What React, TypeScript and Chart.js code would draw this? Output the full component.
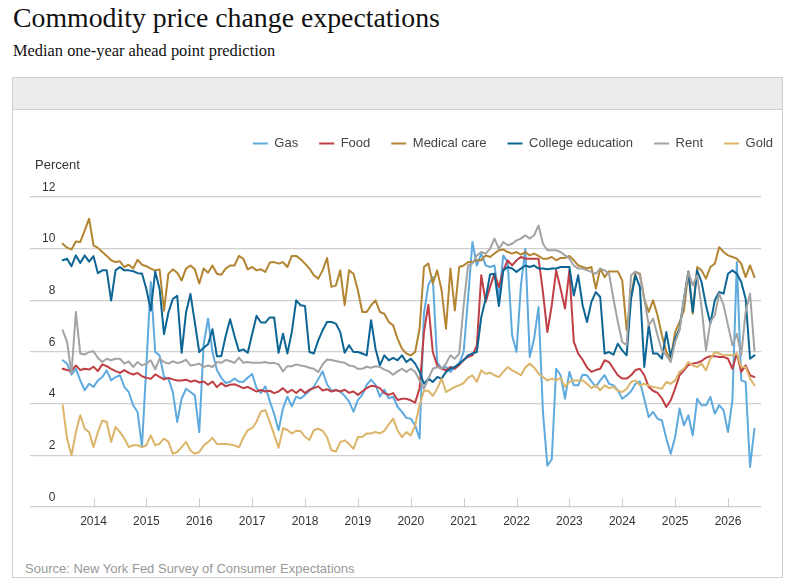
import React, { useEffect, useRef } from 'react';
import { Chart, registerables } from 'chart.js';

Chart.register(...registerables);

// ---- Data (median one-year ahead point prediction, percent), monthly from June 2013 ----
const START_YEAR = 2013;
const START_MONTH = 6;
const YEAR_TICKS = [2014, 2015, 2016, 2017, 2018, 2019, 2020, 2021, 2022, 2023, 2024, 2025, 2026];

const SERIES_NAMES = ['Gas', 'Food', 'Medical care', 'College education', 'Rent', 'Gold'];
const SERIES_COLORS = ['#5eaadf', '#bf3f45', '#b38431', '#0c6594', '#a3a3a3', '#dcb46a'];

const GAS = [
  5.68, 5.55, 5.12, 5.35, 4.9, 4.52, 4.77, 4.65, 4.9, 5.03,
  5.29, 4.9, 5.03, 5.1, 4.65, 4.45, 3.94, 3.68, 2.32, 5.5,
  8.71, 6.0, 5.87, 5.03, 4.97, 4.45, 3.29, 4.19, 4.58, 4.45,
  4.32, 2.9, 6.3, 7.29, 6.0, 5.3, 5.0, 4.8, 4.85, 4.97,
  4.85, 4.85, 5.0, 5.15, 4.6, 4.41, 4.67, 4.1, 3.6, 2.97,
  3.82, 4.27, 3.9, 4.27, 4.2, 4.34, 4.5, 4.65, 4.95, 5.25,
  4.75, 4.5, 4.54, 4.47, 4.3, 4.08, 3.69, 4.14, 4.34, 4.73,
  4.93, 4.73, 4.27, 4.54, 4.21, 4.27, 3.88, 3.68, 3.45, 3.42,
  3.16, 2.65, 7.5, 8.6, 8.9, 5.61, 5.35, 5.42, 5.23, 5.42,
  5.55, 6.0, 8.06, 10.26, 9.35, 9.81, 9.35, 9.29, 9.35, 8.06,
  9.74, 9.48, 6.65, 6.0, 8.58, 10.0, 5.81, 6.52, 7.74, 3.68,
  1.6, 1.85, 5.35, 5.1, 4.19, 5.23, 4.71, 4.71, 5.12, 5.1,
  4.86, 4.65, 4.9, 5.1, 4.77, 4.71, 4.52, 4.19, 4.32, 4.48,
  4.77, 4.86, 4.19, 3.48, 3.68, 3.42, 3.35, 2.65, 2.06, 2.71,
  3.81, 3.16, 3.55, 2.77, 4.19, 3.94, 3.94, 4.26, 3.61, 3.94,
  3.74, 2.9, 4.13, 9.48, 4.9, 4.84, 1.55, 3.03,
];

const FOOD = [
  5.35, 5.3, 5.26, 5.48, 5.3, 5.35, 5.32, 5.43, 5.26, 5.52,
  5.45, 5.35, 5.26, 5.19, 5.3, 5.19, 5.13, 5.19, 5.06, 5.0,
  4.96, 5.13, 5.04, 4.94, 5.0, 4.94, 4.9, 4.9, 4.93, 4.85,
  4.9, 4.82, 4.86, 4.73, 4.86, 4.64, 4.8, 4.67, 4.73, 4.75,
  4.68, 4.6, 4.65, 4.56, 4.47, 4.53, 4.47, 4.5, 4.41, 4.47,
  4.6, 4.43, 4.54, 4.41, 4.56, 4.41, 4.54, 4.6, 4.67, 4.51,
  4.56, 4.47, 4.52, 4.47, 4.54, 4.42, 4.47, 4.34, 4.47, 4.6,
  4.69, 4.67, 4.6, 4.41, 4.34, 4.41, 4.14, 4.19, 4.19, 4.13,
  4.04, 4.6, 6.77, 7.83, 6.0, 5.48, 5.35, 5.29, 5.42, 5.35,
  5.5, 5.7, 5.81, 5.87, 6.26, 8.97, 7.94, 8.52, 9.03, 8.52,
  9.16, 9.55, 9.35, 9.55, 9.68, 9.61, 9.61, 9.61, 9.61, 8.32,
  6.77, 7.81, 9.16, 8.45, 7.68, 9.16, 6.4, 5.94, 5.7, 5.4,
  5.23, 5.3, 5.35, 5.68, 5.61, 5.35, 5.1, 4.97, 4.97, 5.1,
  5.3, 5.35, 5.1, 4.65, 4.5, 4.42, 4.2, 3.87, 4.13, 4.58,
  5.1, 5.29, 5.5, 5.55, 5.58, 5.65, 5.78, 5.84, 5.84, 5.81,
  5.81, 5.74, 5.35, 5.94, 5.23, 5.48, 5.1, 5.03,
];

const MEDICAL = [
  10.19, 10.04, 9.97, 10.28, 10.26, 10.7, 11.16, 10.13, 10.03, 9.87,
  9.72, 9.55, 9.48, 9.51, 9.29, 9.38, 9.23, 9.57, 9.38, 9.32,
  9.23, 9.16, 9.19, 7.6, 9.03, 9.2, 9.07, 8.77, 9.23, 9.35,
  9.2, 8.65, 9.23, 9.07, 9.35, 9.03, 8.99, 9.23, 9.35, 9.35,
  9.72, 9.61, 9.2, 9.29, 9.16, 9.2, 9.1, 9.46, 9.48, 9.42,
  9.48, 9.29, 9.72, 9.72, 9.59, 9.42, 9.23, 8.97, 8.84, 9.16,
  9.64, 8.52, 8.58, 9.16, 7.81, 9.16, 9.03, 8.39, 7.55, 7.55,
  7.81, 8.0, 7.55, 7.48, 7.16, 7.03, 6.52, 6.13, 5.94, 5.87,
  6.0, 6.9, 9.29, 9.42, 8.65, 9.16, 8.39, 6.9, 9.23, 7.61,
  9.29, 9.35, 9.48, 9.48, 9.55, 9.55, 9.74, 9.68, 9.81, 9.94,
  9.97, 9.87, 9.81, 9.87, 9.77, 9.87, 9.74, 9.81, 9.72, 9.61,
  9.61, 9.68, 9.55, 9.64, 9.64, 9.72, 9.55, 9.35, 9.29, 9.23,
  9.29, 8.45, 9.23, 8.9, 9.12, 9.12, 9.12, 8.77, 6.84, 8.19,
  9.1, 9.03, 8.06, 7.55, 8.0, 7.42, 6.65, 6.0, 5.74, 6.77,
  7.16, 7.61, 9.1, 7.48, 9.29, 9.16, 8.84, 9.29, 9.42, 10.06,
  9.87, 9.74, 9.68, 9.61, 9.42, 8.9, 9.35, 8.9,
];

const COLLEGE = [
  9.55, 9.61, 9.32, 9.74, 9.45, 9.74, 9.5, 9.71, 9.05, 9.16,
  9.16, 7.99, 9.16, 9.29, 9.16, 9.16, 9.13, 9.05, 9.04, 8.44,
  7.6, 9.12, 8.44, 6.69, 7.53, 8.05, 8.18, 5.97, 7.53, 8.25,
  7.14, 6.0, 6.17, 6.3, 6.88, 5.84, 5.84, 6.62, 7.27, 6.62,
  6.04, 6.1, 5.97, 6.69, 7.4, 7.14, 7.14, 7.34, 7.34, 5.97,
  6.71, 5.94, 6.77, 8.0, 7.81, 7.78, 6.0, 5.94, 6.45, 6.84,
  7.16, 7.16, 7.1, 6.77, 5.97, 6.26, 6.0, 6.0, 5.94, 5.87,
  7.23, 6.13, 5.48, 5.87, 5.68, 5.77, 5.68, 5.87, 5.61, 5.74,
  5.55, 5.23, 4.77, 4.97, 4.84, 5.03, 4.97, 5.23, 5.35, 5.42,
  5.55, 5.68, 5.87, 5.94, 6.0, 7.35, 8.06, 9.0, 9.03, 7.78,
  9.16, 9.29, 9.23, 9.1, 9.23, 9.35, 9.29, 9.35, 9.23, 9.23,
  9.2, 9.23, 9.23, 9.29, 9.29, 9.29, 8.19, 8.97, 7.81, 7.16,
  7.94, 8.32, 8.13, 5.94, 6.0, 5.9, 6.32, 6.06, 5.87, 8.06,
  8.97, 8.52, 5.42, 7.03, 5.94, 5.94, 5.74, 6.77, 5.81, 6.52,
  6.9, 8.06, 9.12, 7.55, 9.16, 8.71, 7.81, 7.1, 8.0, 8.32,
  8.26, 9.03, 9.16, 9.03, 8.71, 8.06, 5.74, 5.87,
];

const RENT = [
  6.84, 6.39, 5.16, 7.55, 5.94, 5.9, 6.0, 6.03, 5.77, 5.61,
  5.74, 5.68, 5.74, 5.74, 5.55, 5.64, 5.42, 5.61, 5.48, 5.55,
  5.68, 5.33, 5.74, 5.61, 5.55, 5.64, 5.57, 5.61, 5.7, 5.48,
  5.51, 5.55, 5.42, 5.48, 5.42, 5.61, 5.58, 5.69, 5.65, 5.58,
  5.78, 5.58, 5.61, 5.58, 5.58, 5.58, 5.61, 5.56, 5.58, 5.52,
  5.25, 5.45, 5.45, 5.52, 5.48, 5.45, 5.39, 5.35, 5.22, 5.52,
  5.71, 5.69, 5.65, 5.61, 5.58, 5.48, 5.45, 5.35, 5.35, 5.43,
  5.39, 5.45, 5.42, 5.32, 5.25, 5.12, 5.25, 5.35, 5.23, 5.35,
  5.23, 4.9, 4.58, 4.97, 5.35, 5.42, 5.35, 5.55, 5.87, 5.74,
  5.94, 7.81, 9.35, 9.42, 9.74, 9.87, 9.81, 10.0, 10.39, 10.0,
  10.26, 10.13, 10.19, 10.32, 10.39, 10.52, 10.39, 10.52, 10.9, 10.19,
  9.94, 9.94, 9.94, 9.87, 9.74, 9.61, 9.35, 9.23, 9.23, 9.16,
  9.1, 9.03, 9.23, 9.16, 9.03, 8.06, 7.16, 6.39, 6.26, 8.97,
  9.12, 8.97, 8.06, 7.03, 7.29, 6.65, 6.06, 5.87, 5.61, 6.39,
  6.84, 8.06, 9.1, 8.58, 8.97, 7.74, 6.06, 7.16, 7.42, 8.26,
  7.81, 7.03, 6.26, 6.71, 5.87, 7.55, 8.26, 6.06,
];

const GOLD = [
  3.94, 2.65, 2.0, 2.9, 3.55, 3.03, 2.9, 2.32, 2.9, 3.35,
  3.29, 2.52, 3.1, 2.9, 2.65, 2.32, 2.39, 2.39, 2.32, 2.39,
  2.77, 2.39, 2.45, 2.65, 2.52, 2.06, 2.13, 2.32, 2.52, 2.19,
  2.06, 2.13, 2.38, 2.51, 2.68, 2.44, 2.44, 2.44, 2.42, 2.38,
  2.31, 2.68, 2.97, 3.05, 3.3, 3.7, 3.75, 3.3, 2.8, 2.29,
  3.05, 2.98, 2.85, 2.95, 2.94, 2.71, 2.6, 2.97, 3.03, 2.95,
  2.7, 2.2, 2.15, 2.51, 2.58, 2.44, 2.25, 2.71, 2.71, 2.85,
  2.85, 2.9, 2.85, 2.95, 3.2, 3.42, 2.97, 2.71, 2.9, 2.77,
  3.16, 3.95, 4.5, 4.5, 4.3, 4.58, 4.97, 4.45, 4.55, 4.65,
  4.71, 4.8, 5.0, 5.1, 4.84, 5.29, 5.16, 5.2, 5.1, 5.03,
  5.23, 5.42, 5.29, 5.2, 5.1, 5.4, 5.55, 5.4, 5.16, 5.03,
  4.9, 4.97, 4.9, 5.0, 4.65, 4.84, 4.9, 4.9, 4.9, 4.77,
  4.6, 4.71, 4.52, 4.71, 4.6, 4.65, 4.5, 4.45, 4.58, 4.84,
  4.9, 4.71, 4.77, 4.7, 4.65, 4.62, 4.58, 4.84, 4.77, 4.9,
  5.23, 5.35, 5.61, 5.48, 5.42, 5.55, 5.29, 5.74, 6.0, 5.94,
  5.87, 5.87, 5.87, 5.94, 5.42, 5.42, 4.97, 4.71,
];

// ---- Layout constants ----
const SANS = "'Liberation Sans', Arial, sans-serif";
const SERIF = "'Liberation Serif', 'Times New Roman', serif";
const X_MIN = 2012.799;
const X_MAX = 2026.624;
const CANVAS_W = 769;
const CANVAS_H = 445;
const LEGEND_GAP = 37;
const LEGEND_SHIFT = 33;

function monthX(i: number): number {
  return START_YEAR + (START_MONTH - 1 + i) / 12;
}

const legendSpacer = {
  id: 'legendSpacer',
  beforeLayout(chart: any) {
    const lg = chart.legend;
    if (lg && !lg._gapPatched) {
      const orig = lg.fit;
      lg.fit = function () {
        orig.call(this);
        this.height += LEGEND_GAP;
      };
      lg._gapPatched = true;
    }
  },
  afterLayout(chart: any) {
    const lg = chart.legend;
    if (lg) {
      lg.left += LEGEND_SHIFT;
      lg.right += LEGEND_SHIFT;
    }
  },
};

const decorations = {
  id: 'decorations',
  beforeDatasetsDraw(chart: any) {
    const { ctx, chartArea, scales } = chart;
    ctx.save();
    ctx.strokeStyle = '#cccccc';
    ctx.lineWidth = 1;
    YEAR_TICKS.forEach((yr) => {
      const x = Math.round(scales.x.getPixelForValue(yr)) + 0.5;
      ctx.beginPath();
      ctx.moveTo(x, chartArea.bottom);
      ctx.lineTo(x, chartArea.bottom - 9);
      ctx.stroke();
    });
    ctx.restore();
  },
  afterDraw(chart: any) {
    const { ctx, chartArea } = chart;
    ctx.save();
    ctx.font = `13px ${SANS}`;
    ctx.fillStyle = '#333333';
    ctx.textAlign = 'left';
    ctx.textBaseline = 'middle';
    ctx.fillText('Percent', chartArea.left + 5, chartArea.top - 31.5);
    ctx.restore();
  },
};

function CommodityChart() {
  const ref = useRef<HTMLCanvasElement | null>(null);

  useEffect(() => {
    const canvas = ref.current;
    if (!canvas) return;
    const seriesList = [GAS, FOOD, MEDICAL, COLLEGE, RENT, GOLD];
    const datasets = seriesList.map((vals, k) => ({
      label: SERIES_NAMES[k],
      data: vals.map((v, i) => ({ x: monthX(i), y: v })),
      borderColor: SERIES_COLORS[k],
      backgroundColor: SERIES_COLORS[k],
      borderWidth: 2,
      pointRadius: 0,
      pointHoverRadius: 0,
      tension: 0,
      fill: false,
      borderJoinStyle: 'round' as const,
      borderCapStyle: 'round' as const,
      order: seriesList.length - k,
    }));

    const defaultLabels = (Chart.defaults as any).plugins.legend.labels.generateLabels;

    const chart = new Chart(canvas, {
      type: 'line',
      data: { datasets },
      options: {
        animation: false,
        responsive: false,
        events: [],
        font: { family: SANS },
        layout: { padding: { left: 17, right: 21, top: 5, bottom: 20.6 } },
        plugins: {
          legend: {
            display: true,
            position: 'top',
            align: 'end',
            labels: {
              boxWidth: 15,
              boxHeight: 2,
              padding: 21,
              color: '#444444',
              font: { size: 13, family: SANS },
              generateLabels: (c: any) =>
                defaultLabels(c).map((l: any) => ({ ...l, lineWidth: 0 })),
              sort: (a: any, b: any) => a.datasetIndex - b.datasetIndex,
            },
          },
          tooltip: { enabled: false },
          title: { display: false },
        },
        scales: {
          x: {
            type: 'linear',
            min: X_MIN,
            max: X_MAX,
            grid: { display: false, drawTicks: false },
            border: { display: false },
            afterBuildTicks: (scale: any) => {
              scale.ticks = YEAR_TICKS.map((v) => ({ value: v }));
            },
            ticks: {
              autoSkip: false,
              maxRotation: 0,
              padding: 7,
              color: '#333333',
              font: { size: 12, family: SANS },
              callback: (v: any) => String(v),
            },
          },
          y: {
            min: 0,
            max: 12,
            grid: { color: '#cfcfcf', lineWidth: 1.3, drawTicks: false },
            border: { display: false },
            afterFit: (scale: any) => {
              scale.width = 0;
            },
            ticks: {
              stepSize: 2,
              mirror: true,
              padding: 12,
              crossAlign: 'far',
              labelOffset: -9.5,
              color: '#333333',
              font: { size: 12, family: SANS },
            },
          },
        },
      } as any,
      plugins: [legendSpacer, decorations],
    });

    return () => chart.destroy();
  }, []);

  return <canvas ref={ref} width={CANVAS_W} height={CANVAS_H} />;
}

export default function App() {
  return (
    <div
      style={{
        position: 'absolute',
        left: 0,
        top: 0,
        width: 788,
        height: 583,
        background: '#ffffff',
        overflow: 'hidden',
      }}
    >
      <div
        style={{
          position: 'absolute',
          left: 13,
          top: 4,
          fontFamily: SERIF,
          fontSize: 27.8,
          lineHeight: 1,
          color: '#111111',
          whiteSpace: 'nowrap',
        }}
      >
        Commodity price change expectations
      </div>
      <div
        style={{
          position: 'absolute',
          left: 13,
          top: 42.8,
          fontFamily: SERIF,
          fontSize: 16.4,
          lineHeight: 1,
          color: '#111111',
          whiteSpace: 'nowrap',
        }}
      >
        Median one-year ahead point prediction
      </div>
      <div
        style={{
          position: 'absolute',
          left: 12,
          top: 77,
          width: 771,
          height: 501,
          border: '1px solid #cfcfcf',
          boxSizing: 'border-box',
        }}
      />
      <div
        style={{
          position: 'absolute',
          left: 13,
          top: 78,
          width: 769,
          height: 32,
          background: '#ececec',
          borderBottom: '1px solid #d0d0d0',
          boxSizing: 'border-box',
        }}
      />
      <div style={{ position: 'absolute', left: 13, top: 111, width: CANVAS_W, height: CANVAS_H }}>
        <CommodityChart />
      </div>
      <div
        style={{
          position: 'absolute',
          left: 25,
          top: 561.5,
          fontFamily: SANS,
          fontSize: 13,
          lineHeight: 1,
          color: '#999999',
          whiteSpace: 'nowrap',
        }}
      >
        Source: New York Fed Survey of Consumer Expectations
      </div>
    </div>
  );
}
